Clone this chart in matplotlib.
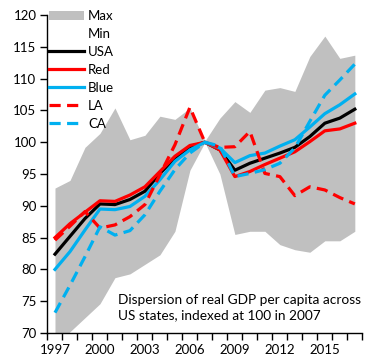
import matplotlib
matplotlib.use("Agg")
from matplotlib import pyplot as plt
from matplotlib.patches import Patch
from matplotlib.lines import Line2D

years = list(range(1997, 2018))

max_vals = [92.8, 94.0, 99.2, 101.4, 105.4, 100.4, 101.1, 104.1, 103.6, 105.4,
            100.2, 103.8, 106.4, 104.7, 108.2, 108.6, 108.0, 113.5, 116.7, 113.2, 113.7]
min_vals = [67.5, 70.2, 72.4, 74.6, 78.7, 79.3, 80.8, 82.3, 86.0, 95.6,
            100.0, 95.0, 85.5, 86.0, 86.0, 83.9, 83.1, 82.7, 84.5, 84.5, 86.0]

usa = [82.4, 85.2, 88.0, 90.3, 90.2, 91.0, 92.3, 95.1, 97.5, 99.3,
       100.0, 98.8, 95.6, 96.7, 97.5, 98.3, 99.2, 100.9, 103.0, 103.8, 105.2]
red = [85.0, 87.2, 89.0, 90.8, 90.7, 91.7, 93.0, 95.4, 97.8, 99.5,
       100.0, 98.8, 94.6, 95.4, 96.5, 97.5, 98.5, 100.1, 101.8, 102.1, 103.0]
blue = [80.0, 82.8, 86.2, 89.5, 89.4, 89.9, 91.5, 94.1, 97.0, 98.8,
        100.0, 99.1, 96.8, 97.9, 98.3, 99.4, 100.4, 102.4, 104.5, 105.9, 107.6]
la = [84.6, 86.8, 89.1, 86.5, 87.0, 88.3, 90.2, 94.9, 99.6, 105.5,
      100.0, 99.2, 99.3, 101.7, 95.1, 94.6, 91.6, 93.0, 92.5, 91.3, 90.3]
ca = [73.2, 77.5, 82.0, 86.7, 85.4, 86.1, 88.6, 92.3, 95.7, 98.3,
      100.0, 99.4, 94.6, 95.1, 95.7, 96.7, 99.1, 103.3, 107.4, 109.8, 112.3]

GRAY = '#C0C0C0'
RED = '#FF0000'
BLUE = '#00B0F0'

plt.rcParams['font.family'] = ['Lato', 'DejaVu Sans']

fig = plt.figure(figsize=(3.83, 3.6), dpi=100)
ax = fig.add_axes([0.124, 0.075, 0.822, 0.883])

ax.fill_between(years, min_vals, max_vals, color=GRAY, lw=0, zorder=1)

lw = 2.3
dash = (3.5, 2.0)
ax.plot(years, usa, color='black', lw=lw, zorder=3)
ax.plot(years, red, color=RED, lw=lw, zorder=3)
ax.plot(years, blue, color=BLUE, lw=lw, zorder=3)
ax.plot(years, la, color=RED, lw=lw, dashes=dash, zorder=3)
ax.plot(years, ca, color=BLUE, lw=lw, dashes=dash, zorder=3)

ax.set_xlim(1996.5, 2017.5)
ax.set_ylim(70, 120)
ax.set_yticks(range(70, 121, 5))
ax.set_xticks([y - 0.5 for y in years] + [2017.5])
ax.set_xticklabels([])
ax.set_xticks([1997, 2000, 2003, 2006, 2009, 2012, 2015], minor=True)
ax.set_xticklabels(['1997', '2000', '2003', '2006', '2009', '2012', '2015'], minor=True)
ax.tick_params(axis='x', which='major', length=5, width=1, direction='out')
ax.tick_params(axis='x', which='minor', length=0, pad=8, labelsize=9.5)
ax.tick_params(axis='y', length=5, width=1, labelsize=9.5, pad=3)
for s in ['top', 'right']:
    ax.spines[s].set_visible(False)
for s in ['left', 'bottom']:
    ax.spines[s].set_linewidth(1)

# annotation in data coords, left edge near 2001
ax.text(2001.2, 71.8, 'Dispersion of real GDP per capita across\nUS states, indexed at 100 in 2007',
        fontsize=9.8, linespacing=1.32, va='bottom', ha='left', zorder=4)

handles = [
    Patch(facecolor=GRAY, edgecolor='none'),
    Patch(facecolor='white', edgecolor='none'),
    Line2D([], [], color='black', lw=lw),
    Line2D([], [], color=RED, lw=lw),
    Line2D([], [], color=BLUE, lw=lw),
    Line2D([], [], color=RED, lw=lw, dashes=dash),
    Line2D([], [], color=BLUE, lw=lw, dashes=dash),
]
labels = ['Max', 'Min', 'USA', 'Red', 'Blue', 'LA', 'CA']
fig.legend(handles, labels, loc='upper left', bbox_to_anchor=(0.127, 0.972),
           frameon=False, fontsize=9.5, handlelength=2.7, handleheight=0.7,
           handletextpad=0.3, labelspacing=0.45, borderpad=0, borderaxespad=0)

fig.savefig('out.png', dpi=100)
